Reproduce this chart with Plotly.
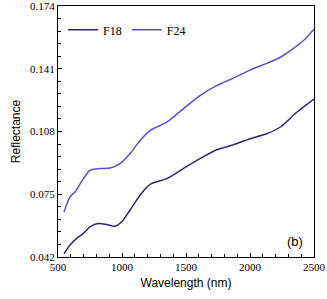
import plotly.graph_objects as go

wl_f24 = [547, 594, 633, 698, 750, 828, 906, 984, 1062, 1141, 1219, 1349, 1479, 1609, 1740, 1870, 2000, 2130, 2234, 2313, 2416, 2500]
f24 = [0.0657, 0.0736, 0.0762, 0.0832, 0.0876, 0.0885, 0.0888, 0.0911, 0.0963, 0.1033, 0.1085, 0.1129, 0.1199, 0.1269, 0.1321, 0.1361, 0.1403, 0.1438, 0.1469, 0.1504, 0.1557, 0.1618]

wl_f18 = [547, 594, 646, 698, 750, 815, 880, 945, 997, 1062, 1141, 1219, 1349, 1479, 1609, 1740, 1870, 2000, 2130, 2240, 2365, 2500]
f18 = [0.0436, 0.0483, 0.0518, 0.0544, 0.0579, 0.0596, 0.0591, 0.0582, 0.0605, 0.0666, 0.0745, 0.0802, 0.0832, 0.0885, 0.0937, 0.0984, 0.1010, 0.1042, 0.1068, 0.1105, 0.1181, 0.1251]

y_ticks = [0.042, 0.075, 0.108, 0.141, 0.174]
x_ticks = [500, 1000, 1500, 2000, 2500]

fig = go.Figure()
fig.add_trace(go.Scatter(x=wl_f18, y=f18, mode="lines", name="F18",
                         line=dict(color="#2e2a6b", width=1.5, shape="spline", smoothing=0.8)))
fig.add_trace(go.Scatter(x=wl_f24, y=f24, mode="lines", name="F24",
                         line=dict(color="#5b4fc9", width=1.5, shape="spline", smoothing=0.8)))

serif = "Liberation Serif, Times New Roman, serif"
sans = "Liberation Sans, Arial, sans-serif"

fig.update_layout(
    width=327, height=299,
    margin=dict(l=58, r=13, t=6, b=42, autoexpand=False),
    paper_bgcolor="white", plot_bgcolor="white",
    showlegend=True,
    legend=dict(orientation="h", x=0.02, y=0.905, xanchor="left", yanchor="middle",
                font=dict(family=serif, size=12, color="black"),
                bgcolor="rgba(0,0,0,0)", itemwidth=30, tracegroupgap=0),
    xaxis=dict(range=[500, 2500], tickvals=x_ticks, ticktext=[str(v) for v in x_ticks],
               ticks="inside", ticklen=4, tickcolor="black", tickwidth=1,
               minor=dict(dtick=100, ticks="inside", ticklen=3, tickcolor="black"),
               showline=True, linecolor="black", linewidth=1, mirror=True,
               showgrid=False, zeroline=False, automargin=False, ticklabeloverflow="allow",
               tickfont=dict(family=serif, size=11, color="black"),
               title=dict(text="Wavelength (nm)", font=dict(family=sans, size=12, color="black"), standoff=6)),
    yaxis=dict(range=[0.042, 0.174], tickvals=y_ticks, ticktext=["%.3f" % v for v in y_ticks],
               ticks="inside", ticklen=4, tickcolor="black", tickwidth=1,
               minor=dict(dtick=0.0066, tick0=0.042, ticks="inside", ticklen=3, tickcolor="black"),
               showline=True, linecolor="black", linewidth=1, mirror=True,
               showgrid=False, zeroline=False, automargin=False, ticklabeloverflow="allow",
               tickfont=dict(family=serif, size=11, color="black"),
               title=dict(text="Reflectance", font=dict(family=sans, size=12, color="black"), standoff=6)),
    annotations=[dict(text="(b)", xref="paper", yref="paper", x=0.965, y=0.06,
                      xanchor="right", yanchor="middle", showarrow=False,
                      font=dict(family=sans, size=13, color="black"))],
)

fig.write_html("out.html", config={"displayModeBar": False})

with open("out.html", "r", encoding="utf-8") as fh:
    html = fh.read()
html = html.replace("<head>", "<head><style>html,body{margin:0;padding:0;overflow:hidden;}</style>", 1)
with open("out.html", "w", encoding="utf-8") as fh:
    fh.write(html)
